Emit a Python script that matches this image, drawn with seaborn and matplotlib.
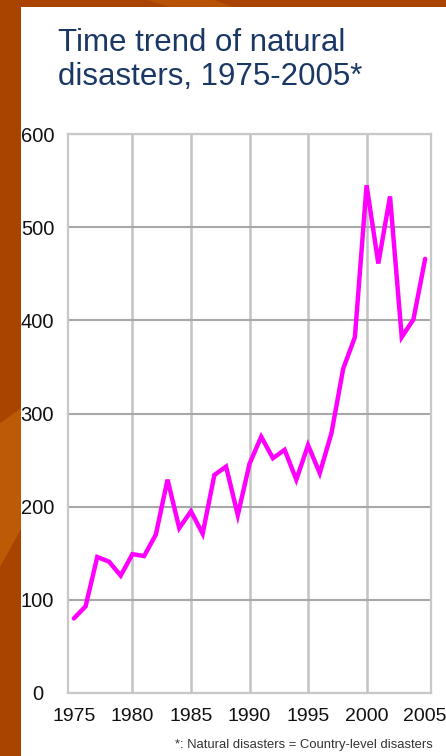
import numpy as np
import pandas as pd
import matplotlib
matplotlib.use("Agg")
import matplotlib.pyplot as plt
import seaborn as sns
from matplotlib.patches import Rectangle, Polygon

# Data
years = list(range(1975, 2006))
disasters = [80, 93, 146, 141, 126, 149, 147, 170, 229, 177,
             195, 171, 234, 243, 191, 246, 275, 252, 261, 229,
             266, 236, 279, 348, 382, 545, 461, 533, 382, 401, 466]
label_years = [1975, 1980, 1985, 1990, 1995, 2000, 2005]
grid_years = [1980, 1985, 1990, 1995, 2000]
y_ticks = [0, 100, 200, 300, 400, 500, 600]

title_text = "Time trend of natural\ndisasters, 1975-2005*"
note_text = "*: Natural disasters = Country-level disasters"

df = pd.DataFrame({"year": years, "disasters": disasters})

sns.set_style("white")
plt.rcParams["font.family"] = ["Liberation Sans", "DejaVu Sans"]
narrow = ["Liberation Sans Narrow", "Liberation Sans", "DejaVu Sans"]

fig = plt.figure(figsize=(4.46, 7.56), dpi=100)
fig.patch.set_facecolor("#A94400")

# orange slide background streaks and the white panel
fig.patches.append(Polygon([[0, 0.44], [0.047, 0.46], [0.047, 0.30], [0, 0.25]],
                           closed=True, transform=fig.transFigure,
                           facecolor="#BC5A06", edgecolor="none", zorder=-2))
fig.patches.append(Polygon([[0.33, 1], [0.38, 0.991], [0.52, 0.991], [0.48, 1]],
                           closed=True, transform=fig.transFigure,
                           facecolor="#B85204", edgecolor="none", zorder=-2))
fig.patches.append(Rectangle((21 / 446, 0), 1 - 21 / 446, 1 - 7 / 756,
                             transform=fig.transFigure, facecolor="white",
                             edgecolor="none", zorder=-1))

ax = fig.add_axes([68 / 446, 1 - 693 / 756, 363 / 446, 559 / 756])
ax.set_zorder(2)
ax.set_facecolor("white")

sns.lineplot(data=df, x="year", y="disasters", ax=ax, color="#FF00FF",
             linewidth=3.2, zorder=5)
for ln in ax.lines:
    ln.set_solid_joinstyle("miter")

ax.set_xlim(1974.5, 2005.5)
ax.set_ylim(0, 600)
ax.set_xlabel("")
ax.set_ylabel("")

# labels on major ticks, grid lines and tick marks on minor ticks
ax.xaxis.remove_overlapping_locs = False
ax.set_xticks(label_years)
ax.set_xticklabels([str(y) for y in label_years], family=narrow, fontsize=14,
                   color="#111111")
ax.set_xticks(grid_years, minor=True)
ax.tick_params(axis="x", which="major", length=0, pad=11)
ax.tick_params(axis="x", which="minor", length=3.6, width=1.8, color="#C3C3C3",
               direction="out")

ax.set_yticks(y_ticks)
ax.set_yticklabels([str(v) for v in y_ticks], family=narrow, fontsize=14.5,
                   color="#111111")
ax.tick_params(axis="y", length=0, pad=22)
for lbl in ax.get_yticklabels():
    lbl.set_ha("center")

ax.grid(False)
ax.grid(axis="x", which="minor", color="#C3C3C3", linewidth=1.8)
ax.grid(axis="y", which="major", color="#A8A8A8", linewidth=1.5)
ax.set_axisbelow(True)

for side in ["left", "right", "top", "bottom"]:
    ax.spines[side].set_visible(True)
    ax.spines[side].set_color("#C8C8C8")
    ax.spines[side].set_linewidth(1.6)

fig.text(58 / 446, 1 - 28 / 756, title_text, ha="left", va="top",
         fontsize=22.5, color="#1B3764", linespacing=1.18)
fig.text(433 / 446, 1 - 745 / 756, note_text, ha="right", va="center",
         family=narrow, fontsize=9.4, color="#333333")

fig.savefig("out.png", dpi=100, facecolor=fig.get_facecolor())
